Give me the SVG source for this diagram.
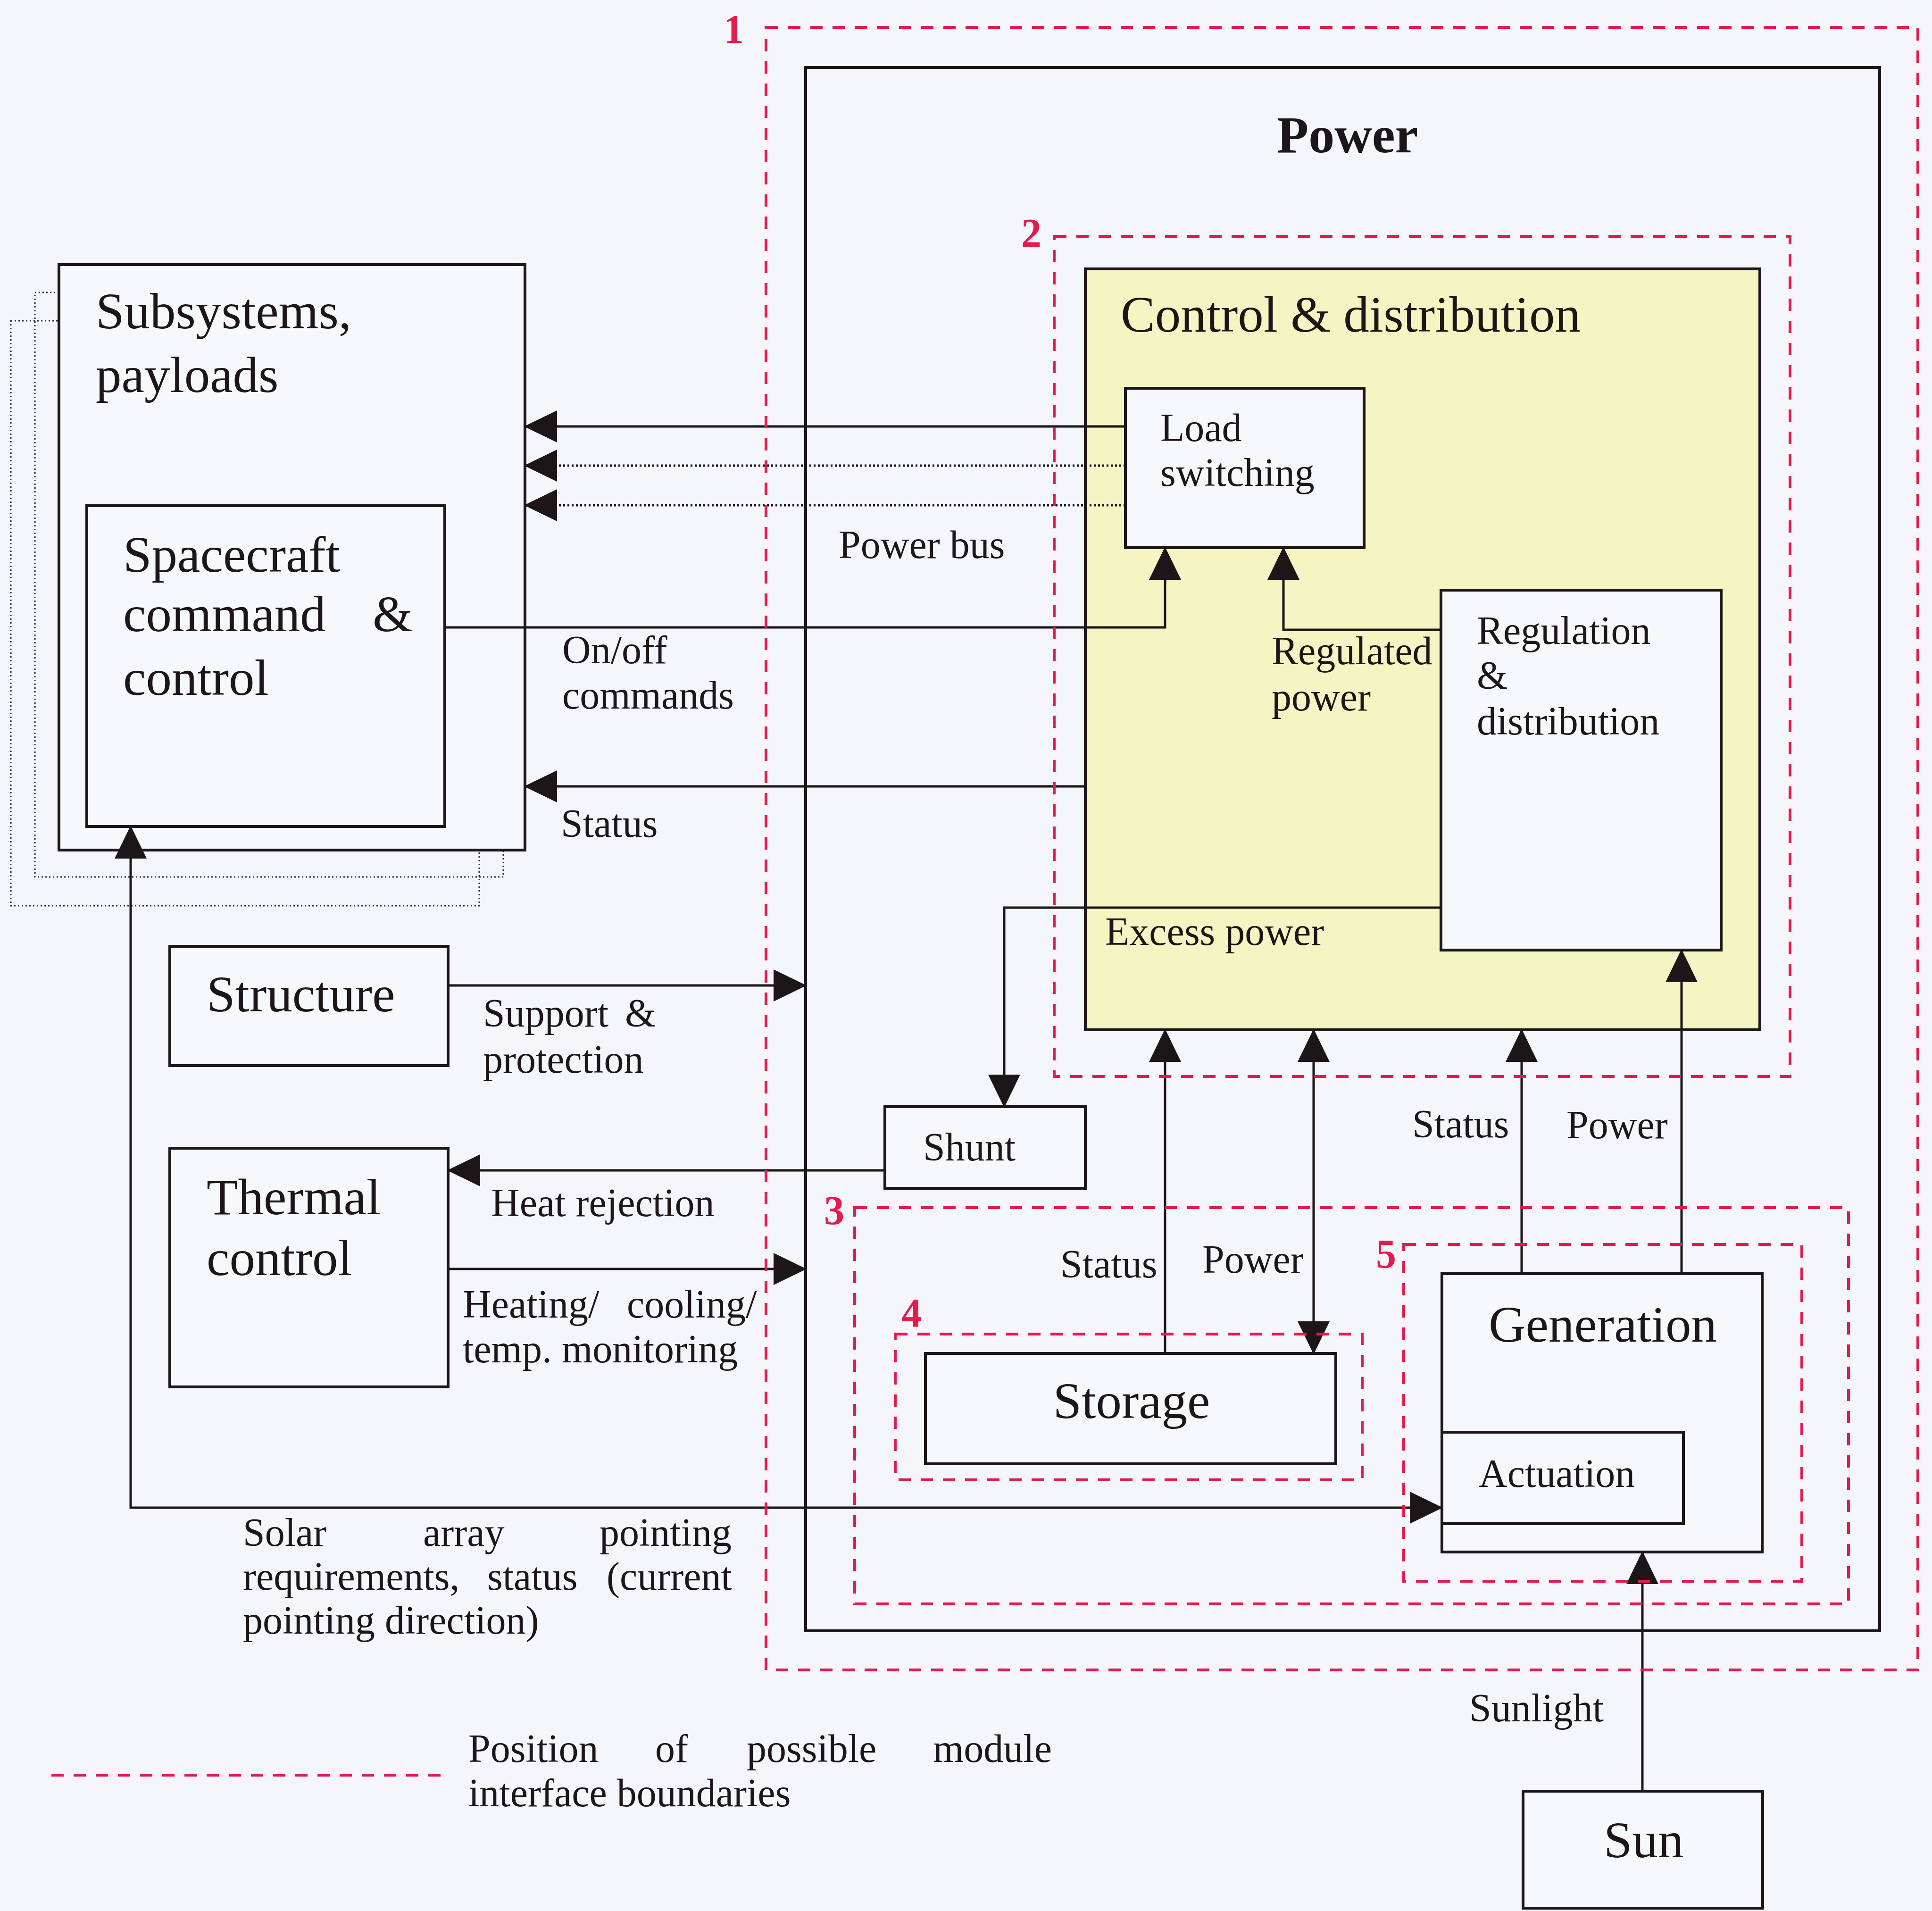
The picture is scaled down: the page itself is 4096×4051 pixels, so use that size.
<svg xmlns="http://www.w3.org/2000/svg" width="4096" height="4051" viewBox="0 0 4096 4051">
<defs>
<style>
text{font-family:"Liberation Serif","Times New Roman",serif;fill:#1c1618}
.big{font-size:109px}
.sm{font-size:84px}
.red{font-size:86px;font-weight:bold;fill:#e5194b}
.box{fill:#f7f8fc;stroke:#1c1618;stroke-width:6}
.ln{fill:none;stroke:#1c1618;stroke-width:5}
.dot{fill:none;stroke:#2a2a2a;stroke-width:3;stroke-dasharray:3 5}
.bnd{fill:none;stroke:#e5194b;stroke-width:6;stroke-dasharray:26 21}
</style>
<marker id="ah" markerUnits="userSpaceOnUse" markerWidth="70" markerHeight="68" refX="68" refY="34" orient="auto-start-reverse" viewBox="0 0 70 68">
<path d="M0,0 L70,34 L0,68 z" fill="#1c1618"/>
</marker>
</defs>
<rect x="0" y="0" width="4096" height="4051" fill="#f4f6fb"/>

<g id="stack-frames">
<rect class="dot" x="23" y="680" width="993" height="1240"/>
<rect class="dot" x="74" y="620" width="993" height="1239"/>
</g>

<g id="power">
<rect x="1708" y="143" width="2277" height="3314" fill="none" stroke="#1c1618" stroke-width="6"/>
<text x="2707" y="323" font-size="110" font-weight="bold">Power</text>
</g>

<g id="control-distribution">
<rect x="2301" y="570" width="1430" height="1613" fill="#f5f5c4" stroke="#1c1618" stroke-width="6"/>
<text class="big" x="2376" y="703">Control &amp; distribution</text>
</g>

<g id="load-switching">
<rect class="box" x="2386" y="823" width="506" height="338"/>
<text class="sm" x="2460" y="935">Load</text>
<text class="sm" x="2460" y="1030">switching</text>
</g>

<g id="regulation">
<rect class="box" x="3055" y="1251" width="594" height="763"/>
<text class="sm" x="3131" y="1365">Regulation</text>
<text class="sm" x="3131" y="1460">&amp;</text>
<text class="sm" x="3131" y="1557">distribution</text>
</g>

<g id="subsystems">
<rect class="box" x="125" y="561" width="988" height="1241"/>
<text class="big" x="203" y="696">Subsystems,</text>
<text class="big" x="203" y="831">payloads</text>
</g>

<g id="spacecraft-cc">
<rect class="box" x="184" y="1072" width="759" height="680"/>
<text class="big" x="261" y="1212">Spacecraft</text>
<text class="big" y="1338"><tspan x="261">command</tspan><tspan x="790">&amp;</tspan></text>
<text class="big" x="261" y="1473">control</text>
</g>

<g id="shunt">
<rect class="box" x="1876" y="2346" width="425" height="173"/>
<text class="sm" x="1957" y="2460">Shunt</text>
</g>

<g id="structure">
<rect class="box" x="360" y="2006" width="590" height="253"/>
<text class="big" x="438" y="2144">Structure</text>
</g>

<g id="thermal">
<rect class="box" x="360" y="2434" width="590" height="506"/>
<text class="big" x="438" y="2574">Thermal</text>
<text class="big" x="438" y="2703">control</text>
</g>

<g id="storage">
<rect class="box" x="1962" y="2869" width="870" height="234"/>
<text class="big" x="2399" y="3006" text-anchor="middle">Storage</text>
</g>

<g id="generation">
<rect class="box" x="3057" y="2700" width="679" height="590"/>
<text class="big" x="3398" y="2844" text-anchor="middle">Generation</text>
</g>

<g id="actuation">
<rect class="box" x="3057" y="3036" width="512" height="194"/>
<text class="sm" x="3135" y="3152">Actuation</text>
</g>

<g id="sun">
<rect class="box" x="3229" y="3797" width="508" height="248"/>
<text class="big" x="3400" y="3937">Sun</text>
</g>

<g id="connectors">
<path class="ln" d="M2386,904 H1113" marker-end="url(#ah)"/>
<path class="ln" d="M2386,987 H1113" stroke-dasharray="4 5" marker-end="url(#ah)"/>
<path class="ln" d="M2386,1071 H1113" stroke-dasharray="4 5" marker-end="url(#ah)"/>
<path class="ln" d="M943,1330 H2470 V1161" marker-end="url(#ah)"/>
<path class="ln" d="M3055,1335 H2721 V1161" marker-end="url(#ah)"/>
<path class="ln" d="M2301,1667 H1113" marker-end="url(#ah)"/>
<path class="ln" d="M3055,1924 H2129 V2346" marker-end="url(#ah)"/>
<path class="ln" d="M950,2089 H1708" marker-end="url(#ah)"/>
<path class="ln" d="M1876,2481 H950" marker-end="url(#ah)"/>
<path class="ln" d="M950,2690 H1708" marker-end="url(#ah)"/>
<path class="ln" d="M277,1752 V3196 H3057" marker-start="url(#ah)" marker-end="url(#ah)"/>
<path class="ln" d="M2470,2869 V2183" marker-end="url(#ah)"/>
<path class="ln" d="M2785,2183 V2869" marker-start="url(#ah)" marker-end="url(#ah)"/>
<path class="ln" d="M3226,2700 V2183" marker-end="url(#ah)"/>
<path class="ln" d="M3565,2700 V2014" marker-end="url(#ah)"/>
<path class="ln" d="M3482,3797 V3290" marker-end="url(#ah)"/>
</g>

<g id="connector-labels">
<text class="sm" x="1778" y="1183">Power bus</text>
<text class="sm" x="1192" y="1406">On/off</text>
<text class="sm" x="1192" y="1502">commands</text>
<text class="sm" x="2696" y="1408">Regulated</text>
<text class="sm" x="2696" y="1506">power</text>
<text class="sm" x="1189" y="1774">Status</text>
<text class="sm" x="2343" y="2003">Excess power</text>
<text class="sm" y="2176"><tspan x="1024">Support</tspan><tspan x="1325">&amp;</tspan></text>
<text class="sm" x="1024" y="2274">protection</text>
<text class="sm" x="1041" y="2578">Heat rejection</text>
<text class="sm" y="2793"><tspan x="981">Heating/</tspan><tspan x="1329">cooling/</tspan></text>
<text class="sm" x="981" y="2888">temp. monitoring</text>
<text class="sm" y="3277"><tspan x="515">Solar</tspan><tspan x="897">array</tspan><tspan x="1271">pointing</tspan></text>
<text class="sm" y="3370"><tspan x="515">requirements,</tspan><tspan x="1033">status</tspan><tspan x="1286">(current</tspan></text>
<text class="sm" x="515" y="3463">pointing direction)</text>
<text class="sm" x="2248" y="2708">Status</text>
<text class="sm" x="2549" y="2698">Power</text>
<text class="sm" x="2994" y="2411">Status</text>
<text class="sm" x="3321" y="2413">Power</text>
<text class="sm" x="3115" y="3649">Sunlight</text>
</g>

<g id="boundaries">
<rect class="bnd" x="1624" y="58" width="2442" height="3482"/>
<rect class="bnd" x="2235" y="501" width="1560" height="1781"/>
<rect class="bnd" x="1812" y="2560" width="2107" height="840"/>
<rect class="bnd" x="1898" y="2828" width="990" height="309"/>
<rect class="bnd" x="2976" y="2638" width="844" height="714"/>
<text class="red" x="1534" y="91">1</text>
<text class="red" x="2165" y="523">2</text>
<text class="red" x="1747" y="2595">3</text>
<text class="red" x="1911" y="2812">4</text>
<text class="red" x="2917" y="2687">5</text>
</g>

<g id="legend">
<line class="bnd" x1="109" y1="3763" x2="938" y2="3763"/>
<text class="sm" y="3735"><tspan x="993">Position</tspan><tspan x="1389">of</tspan><tspan x="1583">possible</tspan><tspan x="1978">module</tspan></text>
<text class="sm" x="993" y="3829">interface boundaries</text>
</g>
</svg>
